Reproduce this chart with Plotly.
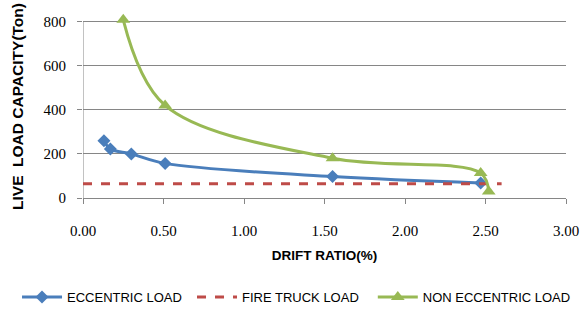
import plotly.graph_objects as go

ecc_x = [0.13, 0.17, 0.30, 0.51, 1.55, 2.47]
ecc_y = [260, 222, 200, 157, 97, 68]
non_x = [0.25, 0.51, 1.55, 2.47, 2.52]
non_y = [808, 420, 180, 113, 30]
fire_x = [0.0, 2.6]
fire_y = [65, 65]
x_ticks = [0, 0.5, 1.0, 1.5, 2.0, 2.5, 3.0]
y_ticks = [0, 200, 400, 600, 800]

SANS = "Liberation Sans, Arial"
SERIF = "Liberation Serif"
AXIS = "#868686"

fig = go.Figure()
fig.add_trace(go.Scatter(x=ecc_x, y=ecc_y, mode="lines+markers", name="ECCENTRIC LOAD",
                         cliponaxis=False, legend="legend",
                         line=dict(color="#4A7EBB", width=3, shape="spline", smoothing=1.0),
                         marker=dict(symbol="diamond", size=10, color="#4A7EBB")))
fig.add_trace(go.Scatter(x=fire_x, y=fire_y, mode="lines", name="FIRE TRUCK LOAD",
                         cliponaxis=False, legend="legend2",
                         line=dict(color="#BE4B48", width=3, dash="dash")))
fig.add_trace(go.Scatter(x=non_x, y=non_y, mode="lines+markers", name="NON ECCENTRIC LOAD",
                         cliponaxis=False, legend="legend3",
                         line=dict(color="#98B954", width=3, shape="spline", smoothing=1.0),
                         marker=dict(symbol="triangle-up", size=12, color="#98B954")))

# y axis line only from 0 to top tick
fig.add_shape(type="line", xref="x", yref="y", x0=0, x1=0, y0=0, y1=y_ticks[-1],
              line=dict(color=AXIS, width=1), layer="below")

leg_common = dict(orientation="h", xanchor="left", y=-0.541, yanchor="middle",
                  font=dict(size=13, family=SANS), itemwidth=40, bgcolor="rgba(0,0,0,0)")

fig.update_layout(
    width=587, height=324,
    margin=dict(l=83, r=21, t=15, b=126, autoexpand=False),
    paper_bgcolor="white", plot_bgcolor="white",
    font=dict(family=SANS, size=13, color="black"),
    showlegend=True,
    legend=dict(x=-0.1366, **leg_common),
    legend2=dict(x=0.2257, **leg_common),
    legend3=dict(x=0.600, **leg_common),
)
fig.update_xaxes(range=[0, 3], tickvals=x_ticks, tickformat=".2f",
                 showgrid=False, zeroline=False, showline=True, linecolor=AXIS,
                 ticks="outside", ticklen=5, tickcolor=AXIS, ticklabelstandoff=14,
                 title=dict(text="<b>DRIFT RATIO(%)</b>", font=dict(size=13.5), standoff=12),
                 tickfont=dict(size=15, family=SERIF))
fig.update_yaxes(range=[0, 830], tickvals=y_ticks,
                 showgrid=True, gridcolor=AXIS, gridwidth=1, zeroline=False,
                 showline=False,
                 ticks="outside", ticklen=5, tickcolor=AXIS, ticklabelstandoff=8,
                 title=dict(text="<b>LIVE  LOAD CAPACITY(Ton)</b>", font=dict(size=15.5), standoff=16),
                 tickfont=dict(size=15, family=SERIF))

fig.write_html("out.html")
